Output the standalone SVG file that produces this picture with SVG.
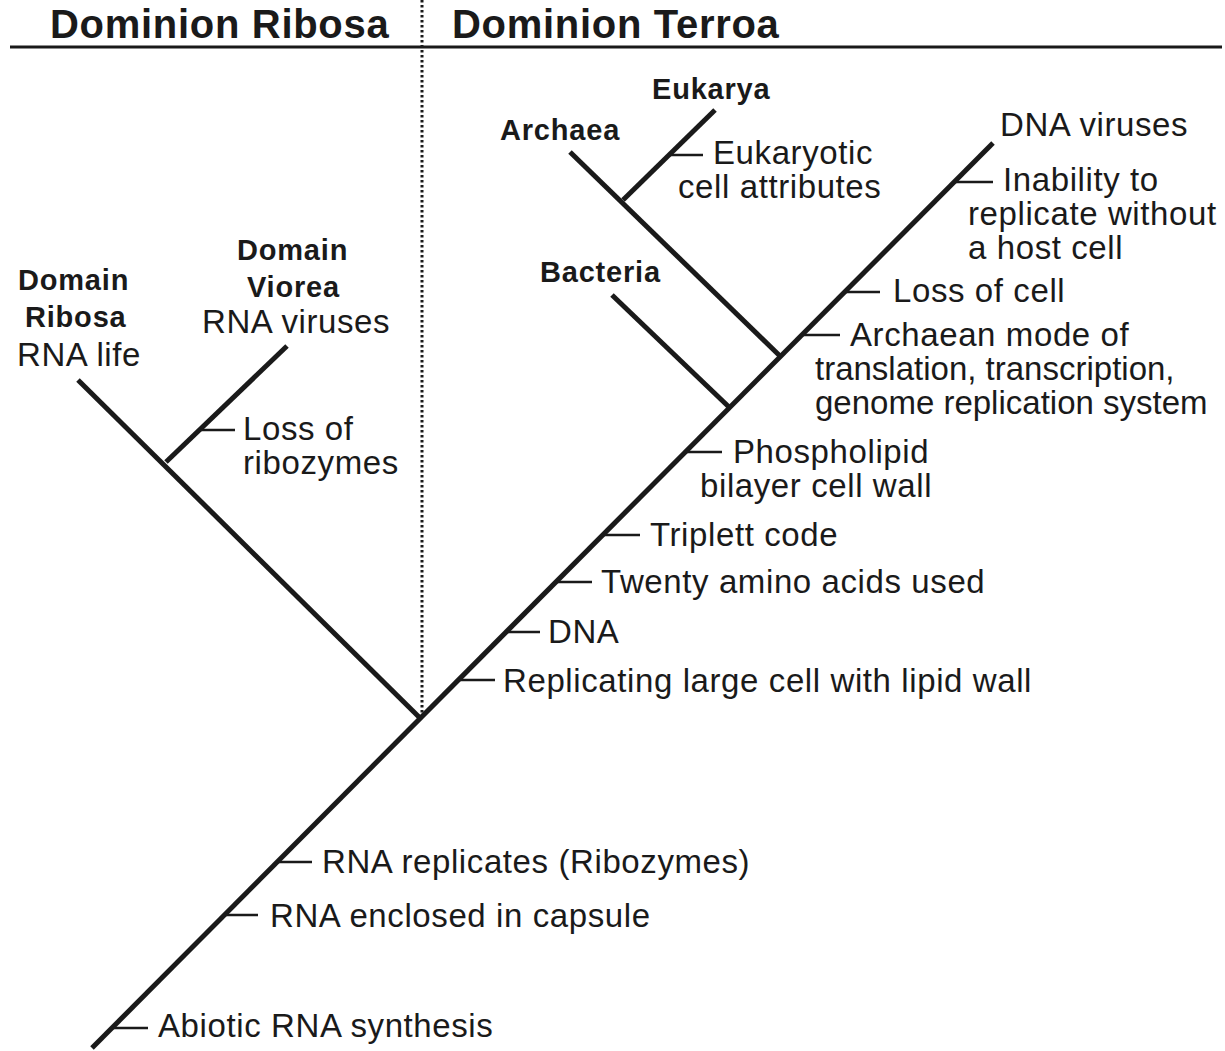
<svg xmlns="http://www.w3.org/2000/svg" width="1225" height="1051" viewBox="0 0 1225 1051">
<style>
.t{font-family:"Liberation Sans",Arial,sans-serif;font-size:33px;letter-spacing:0.6px;fill:#1a1a1a}
.n{letter-spacing:0px}
.b{font-family:"Liberation Sans",Arial,sans-serif;font-size:29px;font-weight:bold;letter-spacing:0.8px;fill:#1a1a1a}
.h{font-family:"Liberation Sans",Arial,sans-serif;font-size:40px;font-weight:bold;letter-spacing:0.7px;fill:#1a1a1a}
.br{stroke:#1a1a1a;stroke-width:5;fill:none;stroke-linecap:butt}
.tk{stroke:#1a1a1a;stroke-width:2.5;fill:none}
</style>
<rect width="1225" height="1051" fill="#fff"/>
<g id="header">
<text class="h" x="50" y="38">Dominion Ribosa</text>
<text class="h" x="452" y="38">Dominion Terroa</text>
<line x1="10" y1="47" x2="1222" y2="47" stroke="#1a1a1a" stroke-width="3"/>
<line x1="422" y1="0" x2="422" y2="715" stroke="#1a1a1a" stroke-width="3" stroke-dasharray="2.5 2.5"/>
</g>
<g id="connectors">
<line class="br" x1="92" y1="1048" x2="993" y2="143"/>
<line class="br" x1="78" y1="380" x2="420" y2="718"/>
<line class="br" x1="166" y1="462" x2="287" y2="346"/>
<line class="br" x1="570" y1="152" x2="781" y2="357"/>
<line class="br" x1="623" y1="200" x2="715" y2="110"/>
<line class="br" x1="612" y1="295" x2="730" y2="408"/>
<line class="tk" x1="199" y1="430" x2="235" y2="430"/>
<line class="tk" x1="669" y1="155" x2="703" y2="155"/>
<line class="tk" x1="112" y1="1028" x2="148" y2="1028"/>
<line class="tk" x1="224" y1="915" x2="258" y2="915"/>
<line class="tk" x1="277" y1="862" x2="312" y2="862"/>
<line class="tk" x1="458" y1="680" x2="495" y2="680"/>
<line class="tk" x1="506" y1="632" x2="540" y2="632"/>
<line class="tk" x1="556" y1="582" x2="592" y2="582"/>
<line class="tk" x1="603" y1="535" x2="640" y2="535"/>
<line class="tk" x1="685" y1="452" x2="722" y2="452"/>
<line class="tk" x1="802" y1="335" x2="840" y2="335"/>
<line class="tk" x1="845" y1="292" x2="880" y2="292"/>
<line class="tk" x1="954" y1="182" x2="993" y2="182"/>
</g>
<g id="domain-ribosa">
<text class="b" x="18" y="290">Domain</text>
<text class="b" x="25" y="327">Ribosa</text>
<text class="t" x="17" y="366">RNA life</text>
</g>
<g id="domain-viorea">
<text class="b" x="237" y="260">Domain</text>
<text class="b" x="247" y="297">Viorea</text>
<text class="t" x="202" y="333">RNA viruses</text>
</g>
<g id="loss-ribozymes">
<text class="t" x="243" y="440">Loss of</text>
<text class="t" x="243" y="474">ribozymes</text>
</g>
<g id="archaea"><text class="b" x="500" y="140">Archaea</text></g>
<g id="eukarya"><text class="b" x="652" y="99">Eukarya</text></g>
<g id="eukaryotic">
<text class="t" x="713" y="164">Eukaryotic</text>
<text class="t" x="678" y="198">cell attributes</text>
</g>
<g id="bacteria"><text class="b" x="540" y="282">Bacteria</text></g>
<g id="dna-viruses"><text class="t" x="1000" y="136">DNA viruses</text></g>
<g id="inability">
<text class="t" x="1003" y="191">Inability to</text>
<text class="t" x="968" y="225">replicate without</text>
<text class="t" x="968" y="259">a host cell</text>
</g>
<g id="loss-cell"><text class="t" x="893" y="302">Loss of cell</text></g>
<g id="archaean-mode">
<text class="t" x="850" y="346">Archaean mode of</text>
<text class="t n" x="815" y="380">translation, transcription,</text>
<text class="t n" x="815" y="414">genome replication system</text>
</g>
<g id="phospholipid">
<text class="t" x="733" y="463">Phospholipid</text>
<text class="t" x="700" y="497">bilayer cell wall</text>
</g>
<g id="triplett"><text class="t" x="650" y="546">Triplett code</text></g>
<g id="twenty"><text class="t" x="601" y="593">Twenty amino acids used</text></g>
<g id="dna"><text class="t" x="548" y="643">DNA</text></g>
<g id="replicating"><text class="t" x="503" y="692">Replicating large cell with lipid wall</text></g>
<g id="rna-replicates"><text class="t" x="322" y="873">RNA replicates (Ribozymes)</text></g>
<g id="rna-enclosed"><text class="t" x="270" y="927">RNA enclosed in capsule</text></g>
<g id="abiotic"><text class="t" x="158" y="1037">Abiotic RNA synthesis</text></g>
</svg>
